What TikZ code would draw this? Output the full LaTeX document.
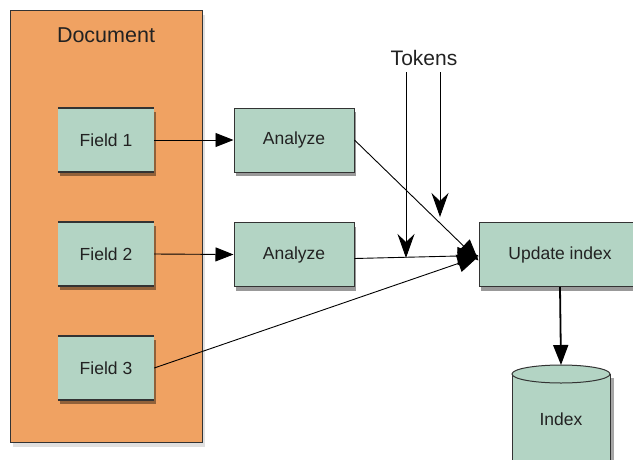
\documentclass[tikz,border=0pt]{standalone}
\usepackage{fontspec}
\setmainfont{Liberation Sans}
\usetikzlibrary{shadows,arrows.meta}
\definecolor{docorange}{HTML}{F0A262}
\definecolor{boxgreen}{HTML}{B3D4C4}
\definecolor{edge}{HTML}{333333}
\definecolor{txt}{HTML}{222222}
\tikzset{
  myshadow/.style={drop shadow={shadow xshift=2pt,shadow yshift=-4pt,opacity=0.4,fill=black}},
  fieldbox/.style={fill=boxgreen,minimum width=96pt,minimum height=64pt,inner sep=0pt,font=\fontsize{17.5}{20}\selectfont,text=txt,myshadow},
  procbox/.style={draw=edge,line width=1pt,fill=boxgreen,minimum height=64pt,inner sep=0pt,font=\fontsize{17.5}{20}\selectfont,text=txt,myshadow},
  conn/.style={line width=0.9pt,draw=black},
  bigtip/.style={-{Triangle[length=21pt,width=18pt]}},
  midtip/.style={-{Triangle[length=18pt,width=14pt]}},
  toktip/.style={-{Stealth[length=24pt,width=17pt,inset=8pt]}},
  edgeline/.style={line width=2pt,draw=edge},
}
\begin{document}
\begin{tikzpicture}[x=1pt,y=-1pt]
\useasboundingbox (0,0) rectangle (633,459);
% document container
\node[draw=edge,line width=0.8pt,fill=docorange,minimum width=192pt,minimum height=432pt,inner sep=0pt,
      drop shadow={shadow xshift=3pt,shadow yshift=-5pt,opacity=0.12,fill=black}] (doc) at (106,226) {};
\node[font=\fontsize{21.5}{24}\selectfont,text=txt] (doclabel) at (106,35) {Document};
% fields
\node[fieldbox] (f1) at (106,140) {Field 1};
\node[fieldbox] (f2) at (106,254) {Field 2};
\node[fieldbox] (f3) at (106,368) {Field 3};
\foreach \f in {f1,f2,f3}{
  \draw[edgeline] (\f.north west) -- (\f.north east);
  \draw[edgeline] (\f.south west) -- (\f.south east);
}
% analyzers
\node[procbox,minimum width=120pt] (a1) at (294,140) {Analyze};
\node[procbox,minimum width=120pt] (a2) at (294,254.5) {Analyze};
% update index
\node[procbox,minimum width=162pt] (upd) at (560,254.5) {Update index};
% index cylinder
\fill[black,opacity=0.35] (515,378) rectangle (614,470);
\filldraw[draw=edge,line width=1pt,fill=boxgreen] (512,374) rectangle (610,470);
\filldraw[draw=edge,line width=1pt,fill=boxgreen] (561,374) ellipse[x radius=49pt,y radius=9pt];
\coordinate (idxtop) at (561,365);
\node[font=\fontsize{17.5}{20}\selectfont,text=txt] (idx) at (561,419) {Index};
% tokens
\node[font=\fontsize{21}{24}\selectfont,text=txt] (tok) at (424,58) {Tokens};
\coordinate (t1s) at (406,72);
\coordinate (t2s) at (440,72);
\coordinate (t1e) at (406,258);
\coordinate (t2e) at (440,217);
% connectors
\draw[conn,midtip] (f1.east) -- (a1.west);
\draw[conn,midtip] (f2.east) -- (a2.west);
\draw[conn,bigtip] (a1.east) -- ([yshift=-6pt]upd.west);
\draw[conn,bigtip] ([yshift=-4pt]a2.east) -- ([yshift=-1pt]upd.west);
\draw[conn,bigtip] (f3.east) -- ([yshift=-2pt]upd.west);
\draw[conn,toktip] (t1s) -- (t1e);
\draw[conn,toktip] (t2s) -- (t2e);
\draw[line width=1.8pt,-{Triangle[length=20pt,width=15pt]}] (upd.south) -- (idxtop);
\end{tikzpicture}
\end{document}
